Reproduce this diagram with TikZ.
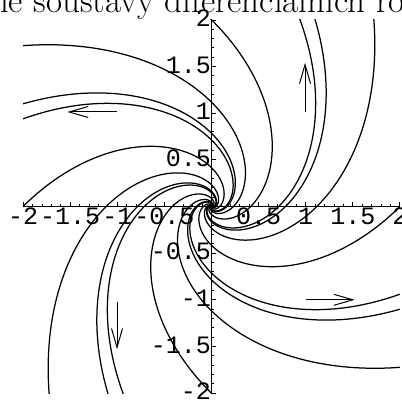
\documentclass[tikz,border=0pt]{standalone}
\usepackage{fontspec}
\newfontfamily\tickfont{Liberation Mono}
\usetikzlibrary{arrows.meta}
\begin{document}
\begin{tikzpicture}[x=94.2pt,y=93.3pt,
  traj/.style={line width=1.25pt},
  axisline/.style={line width=0.9pt},
  tickmark/.style={line width=0.8pt},
  flowarrow/.style={line width=1pt,-{Straight Barb[length=19pt,width=11pt,line width=1pt]}},
  ticklab/.style={font=\tickfont\fontsize{25}{25}\selectfont, inner sep=0pt},
  caption/.style={font=\fontsize{35}{40}\selectfont, inner sep=0pt}]
\useasboundingbox (-2.2452,-2.0847) rectangle (2.0223,2.2133);
% cut-off caption of the page
\node[caption, anchor=base west] (cap) at (-2.2452,2.0793) {ie soustavy diferenciálních ro};
% tick labels
\foreach \v/\s [count=\k] in {-2/-2,-1.5/-1.5,-1/-1,-0.5/-0.5,0.5/0.5,1/1,1.5/1.5,2/2}
  \node[ticklab, anchor=base] (xlab\k) at (\v,-0.198) {\s};
\foreach \v/\s [count=\k] in {-2/-2,-1.5/-1.5,-1/-1,-0.5/-0.5,0.5/0.5,1/1,1.5/1.5,2/2}
  \node[ticklab, anchor=base east] (ylab\k) at (-0.005,\v-0.072) {\s};
% axes
\coordinate (xl) at (-2,0);
\coordinate (xr) at (2,0);
\coordinate (yb) at (0,-2);
\coordinate (yt) at (0,2);
\draw[axisline] (xl) -- (xr);
\draw[axisline] (yb) -- (yt);
\foreach \i in {-20,...,20}{
  \pgfmathsetmacro\len{ifthenelse(mod(abs(\i),5)==0,0.05,0.028)}
  \draw[tickmark] (\i/10,0) -- ++(0,\len);
  \draw[tickmark] (0,\i/10) -- ++(\len,0);
}
% trajectories r = c e^theta, rotated by multiples of 90 degrees
\begin{scope}
\clip (-2,-2) rectangle (2,2);
\foreach \c in {0.416,0.713,0.785,1.118}{
  \pgfmathsetmacro\tmin{ln(0.003/\c)}
  \pgfmathsetmacro\tmax{ln(2.9/\c)}
  \foreach \j in {0,1,2,3}{
    \draw[traj] plot[domain=\tmin:\tmax, samples=400, variable=\t]
      ({\c*exp(\t)*cos(deg(\t)+90*\j)}, {\c*exp(\t)*sin(deg(\t)+90*\j)});
  }
}
\end{scope}
% direction arrows
\coordinate (a1s) at (0.993,1.013);  \coordinate (a1e) at (0.993,1.54);
\coordinate (a2s) at (-1.003,1.013); \coordinate (a2e) at (-1.53,1.013);
\coordinate (a3s) at (-1.003,-1.02); \coordinate (a3e) at (-1.003,-1.53);
\coordinate (a4s) at (1.003,-1.0);   \coordinate (a4e) at (1.52,-1.0);
\draw[flowarrow] (a1s) -- (a1e);
\draw[flowarrow] (a2s) -- (a2e);
\draw[flowarrow] (a3s) -- (a3e);
\draw[flowarrow] (a4s) -- (a4e);
\end{tikzpicture}
\end{document}
